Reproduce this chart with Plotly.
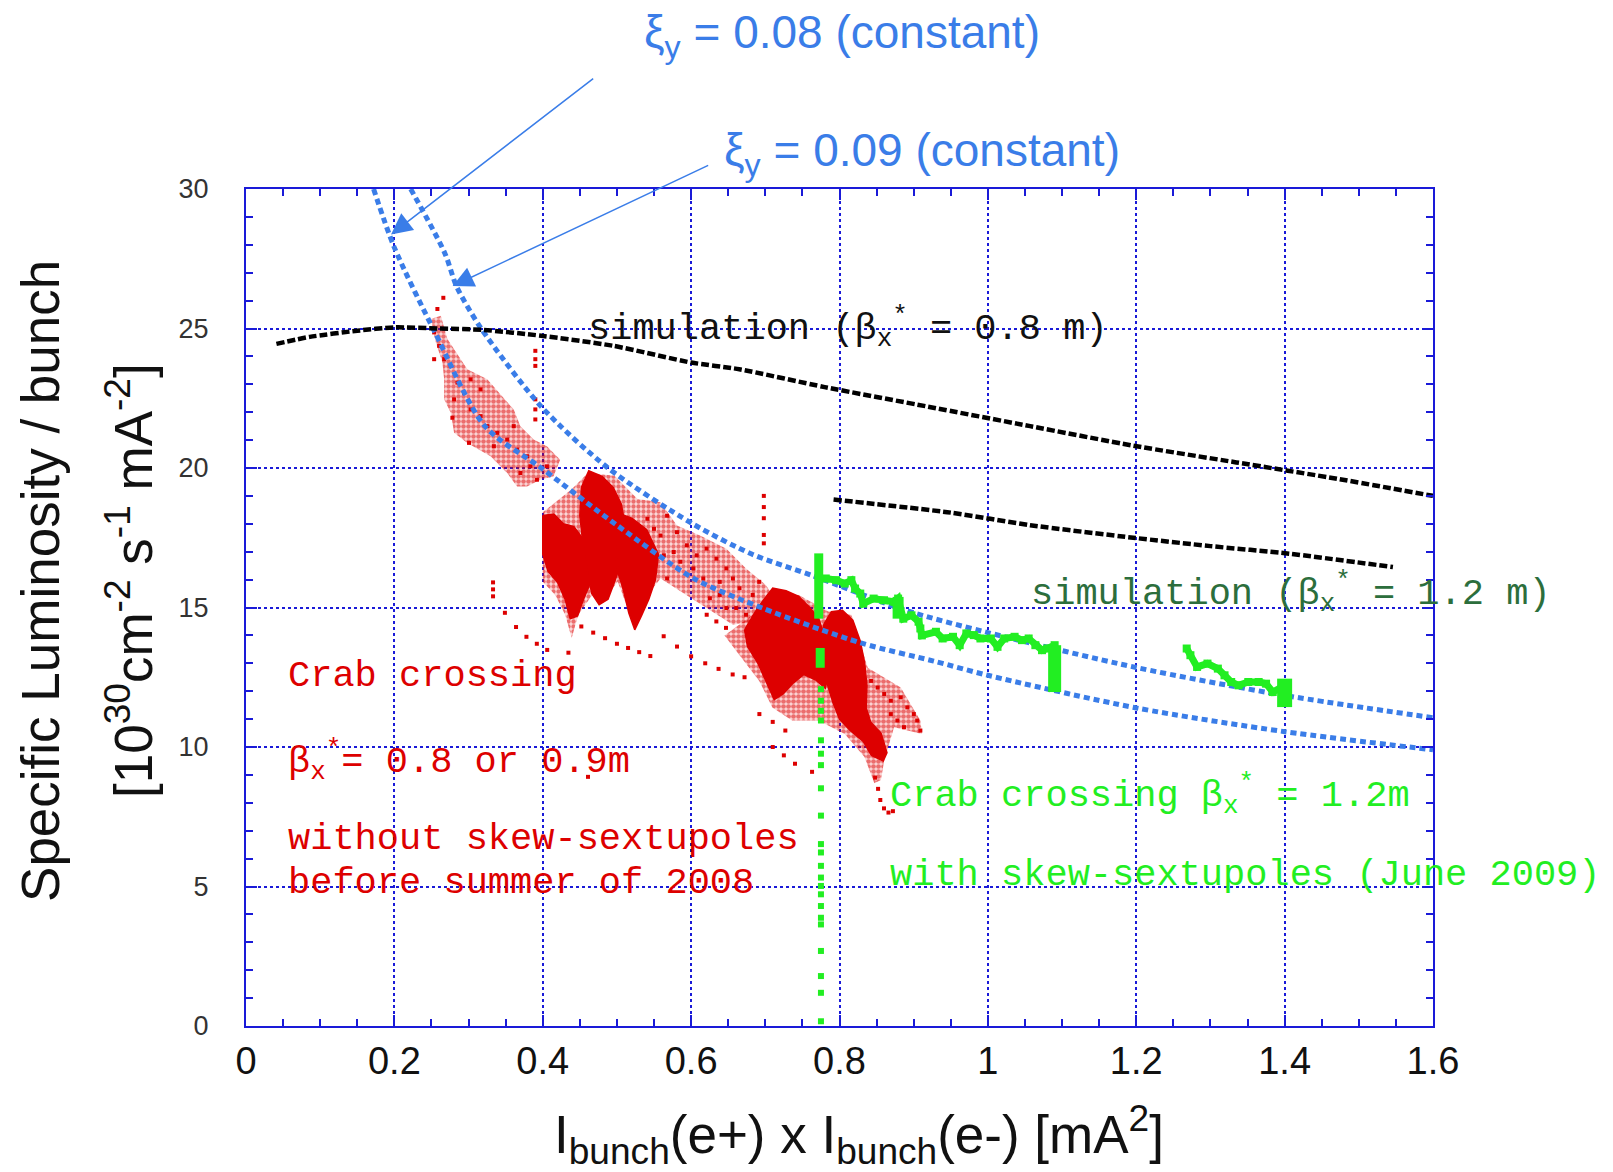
import plotly.graph_objects as go

# ---------------- data ----------------
# beam-beam limit curves, constant vertical tune shift
xi08_x = [0.172, 0.200, 0.254, 0.322, 0.398, 0.50, 0.603, 0.696, 0.83, 0.927, 1.0, 1.2, 1.4, 1.6]
xi08_y = [30.0, 27.9, 24.9, 21.5, 20.0, 17.95, 16.05, 14.98, 13.72, 13.08, 12.57, 11.4, 10.55, 9.9]
xi09_x = [0.222, 0.268, 0.284, 0.317, 0.398, 0.488, 0.602, 0.683, 0.763, 0.889, 1.0, 1.2, 1.4, 1.6]
xi09_y = [30.0, 27.7, 26.5, 25.0, 22.2, 20.0, 18.0, 16.9, 16.15, 14.9, 14.1, 12.85, 11.85, 11.05]

# beam-beam simulations
sim08_x = [0.041, 0.086, 0.15, 0.2, 0.26, 0.32, 0.398, 0.495, 0.6, 0.665, 0.78, 0.919, 1.057, 1.196, 1.335, 1.474, 1.6]
sim08_y = [24.45, 24.7, 24.92, 25.04, 25.0, 24.95, 24.74, 24.38, 23.78, 23.54, 22.9, 22.2, 21.5, 20.8, 20.2, 19.6, 19.0]
sim12_x = [0.792, 0.95, 1.057, 1.196, 1.30, 1.406, 1.546]
sim12_y = [18.87, 18.4, 17.95, 17.5, 17.2, 16.93, 16.45]

# crab crossing, beta_x* = 0.8 / 0.9 m : outlines of the sparse regions
red_streak_x = [0.2492, 0.2559, 0.2648, 0.2671, 0.2671, 0.276, 0.2805, 0.2983, 0.3296, 0.352, 0.3654, 0.3788,
                0.3967, 0.4146, 0.4235, 0.4056, 0.3878, 0.3699, 0.3609, 0.3252, 0.2983, 0.2715, 0.2626]
red_streak_y = [25.34, 24.5, 23.78, 23.18, 22.46, 21.98, 21.26, 20.9, 20.42, 19.82, 19.34, 19.34,
                19.58, 19.7, 20.3, 20.78, 21.02, 21.5, 22.1, 23.18, 23.54, 24.62, 25.46]
red_halo1_x = [0.400, 0.439, 0.4612, 0.4967, 0.5277, 0.5588, 0.5809, 0.612, 0.6475, 0.674, 0.7007, 0.7095, 0.683,
               0.6563, 0.6208, 0.5854, 0.5588, 0.541, 0.5277, 0.5144, 0.5011, 0.4834, 0.470, 0.4479, 0.439,
               0.4302, 0.4168, 0.400]
red_halo1_y = [18.41, 19.24, 19.83, 19.72, 18.89, 18.77, 17.94, 17.58, 17.11, 16.4, 15.81, 15.45, 14.5,
               14.38, 14.98, 15.57, 16.04, 15.45, 14.38, 14.98, 15.92, 15.33, 15.57, 14.74, 13.91,
               14.74, 15.45, 15.92]
red_halo2_x = [0.645, 0.683, 0.7095, 0.745, 0.7849, 0.816, 0.8381, 0.8825, 0.909, 0.9113, 0.8736, 0.8603,
               0.8559, 0.847, 0.8337, 0.8071, 0.7716, 0.7361, 0.7095, 0.6918, 0.665]
red_halo2_y = [14.0, 14.74, 15.57, 15.45, 14.86, 14.74, 12.84, 12.13, 10.95, 10.47, 10.71, 9.53,
               8.82, 8.7, 9.64, 10.47, 10.95, 10.95, 11.42, 12.37, 13.3]

# crab crossing, beta_x* = 0.8 / 0.9 m : outlines of the dense clusters
red_coreA_x = [0.400, 0.415, 0.428, 0.442, 0.456, 0.465, 0.463, 0.455, 0.447, 0.437, 0.430, 0.420, 0.407, 0.400]
red_coreA_y = [18.3, 18.35, 18.0, 17.9, 17.4, 16.5, 15.8, 15.3, 14.7, 14.6, 15.3, 15.9, 16.3, 16.9]
red_coreB_x = [0.452, 0.462, 0.480, 0.495, 0.506, 0.512, 0.508, 0.498, 0.488, 0.476, 0.466, 0.460, 0.454, 0.450]
red_coreB_y = [19.3, 19.9, 19.7, 19.3, 18.7, 17.8, 16.8, 16.0, 15.3, 15.1, 15.5, 16.3, 17.3, 18.3]
red_coreC_x = [0.500, 0.520, 0.540, 0.556, 0.552, 0.543, 0.533, 0.524, 0.516, 0.509, 0.502, 0.498]
red_coreC_y = [18.4, 18.2, 17.8, 16.9, 16.0, 15.3, 14.7, 14.2, 14.8, 15.6, 16.2, 17.0]
red_coreD_x = [0.672, 0.690, 0.710, 0.728, 0.745, 0.760, 0.772, 0.782, 0.787, 0.781, 0.768, 0.752, 0.738,
               0.724, 0.712, 0.702, 0.690, 0.676]
red_coreD_y = [14.2, 15.0, 15.7, 15.6, 15.4, 15.0, 14.6, 13.8, 12.9, 12.1, 12.4, 12.6, 12.3,
               11.9, 11.7, 12.3, 13.0, 13.6]
red_coreE_x = [0.779, 0.789, 0.804, 0.818, 0.828, 0.834, 0.837, 0.836, 0.842, 0.856, 0.864, 0.859, 0.843,
               0.832, 0.814, 0.800, 0.791, 0.783, 0.778, 0.776]
red_coreE_y = [14.4, 14.85, 14.9, 14.55, 13.8, 13.0, 12.2, 11.4, 10.9, 10.5, 9.8, 9.5, 9.7,
               10.2, 10.6, 11.0, 11.6, 12.3, 13.2, 13.9]

# crab crossing, beta_x* = 0.8 / 0.9 m : isolated points
red_pts_x = [0.2536, 0.2603, 0.2671, 0.276, 0.2849, 0.2939, 0.2805, 0.3028, 0.3162, 0.3252, 0.3386, 0.352,
             0.3654, 0.3788, 0.3609, 0.3028, 0.3162, 0.2782, 0.3006, 0.3699, 0.3922, 0.4056, 0.3833, 0.2536,
             0.3341, 0.266, 0.258,
             0.541, 0.5499, 0.5588, 0.5676, 0.5809, 0.5942, 0.6075, 0.6208, 0.6341, 0.6475, 0.6563, 0.6386,
             0.6652, 0.683, 0.6918, 0.6608, 0.6386, 0.6164, 0.6031, 0.5854, 0.5765, 0.5632, 0.5499, 0.5676,
             0.541, 0.6253, 0.6475, 0.674,
             0.8426, 0.8514, 0.8603, 0.8692, 0.8825, 0.8914, 0.9002, 0.9047, 0.909, 0.878, 0.8692, 0.8869,
             0.848, 0.852, 0.855, 0.86, 0.866, 0.872,
             0.333, 0.333, 0.333, 0.349, 0.364, 0.378, 0.392, 0.406,
             0.452, 0.468, 0.484, 0.500, 0.515, 0.530, 0.545,
             0.563, 0.581, 0.600, 0.619, 0.637, 0.656, 0.672,
             0.621, 0.634, 0.647,
             0.692, 0.71, 0.727, 0.71, 0.725, 0.74, 0.763,
             0.4346, 0.439, 0.461,
             0.39, 0.39, 0.39, 0.39, 0.39, 0.39,
             0.698, 0.698, 0.698, 0.698, 0.698]
red_pts_y = [24.86, 24.38, 23.9, 23.66, 23.06, 22.7, 22.46, 22.1, 21.86, 21.5, 21.26, 21.02,
             20.66, 20.42, 21.5, 23.18, 22.82, 21.8, 20.9, 19.82, 19.58, 20.06, 20.06, 23.9,
             20.78, 26.1, 25.7,
             18.18, 17.82, 17.58, 18.29, 17.7, 17.23, 16.87, 17.11, 16.75, 16.4, 16.04, 15.92,
             15.69, 15.45, 15.92, 14.98, 15.45, 16.04, 16.4, 16.64, 16.99, 16.87, 16.4, 16.04,
             17.23, 15.33, 14.98, 14.74,
             12.37, 12.13, 11.9, 11.66, 11.78, 11.42, 11.18, 10.95, 10.59, 10.95, 11.18, 10.71,
             8.9, 8.5, 8.1, 7.8, 7.65, 7.7,
             15.9, 15.65, 15.4, 14.81, 14.3, 13.95, 13.7, 13.48,
             14.32, 14.1, 13.9, 13.7, 13.55, 13.4, 13.26,
             13.97, 13.6, 13.25, 13.0, 12.8, 12.6, 12.5,
             14.74, 14.5, 14.27,
             11.18, 10.9, 10.59, 10.0, 9.7, 9.4, 9.11,
             13.38, 12.84, 8.93,
             24.2, 23.9, 23.66, 22.46, 22.1, 21.74,
             19.0, 18.6, 18.2, 17.6, 17.3]

# crab crossing, beta_x* = 1.2 m with skew-sextupoles
grn_path1_x = [0.7815, 0.7954, 0.807, 0.816, 0.821, 0.828, 0.832, 0.846, 0.860, 0.874, 0.879, 0.886, 0.897,
               0.9066, 0.909, 0.911, 0.930, 0.939, 0.953, 0.962, 0.971, 0.981, 0.990, 1.004, 1.013, 1.022,
               1.036, 1.046, 1.055, 1.064, 1.073, 1.080, 1.090]
grn_path1_y = [16.04, 15.98, 15.86, 15.98, 15.68, 15.5, 15.14, 15.32, 15.26, 15.2, 15.32, 14.6, 14.72,
               14.49, 14.25, 14.0, 14.13, 13.89, 13.95, 13.65, 14.07, 14.01, 13.89, 13.89, 13.59, 13.89,
               13.95, 13.83, 13.89, 13.65, 13.47, 13.53, 13.65]
grn_path2_x = [1.268, 1.273, 1.282, 1.296, 1.310, 1.319, 1.328, 1.338, 1.351, 1.365, 1.375, 1.384, 1.400]
grn_path2_y = [13.53, 13.29, 12.87, 12.99, 12.81, 12.57, 12.33, 12.21, 12.33, 12.33, 12.27, 11.97, 12.2]
# vertical scans at fixed current product
grn_bar_x = [0.772, 0.879, 1.090, 1.400, 0.774]
grn_bar_lo = [14.6, 14.6, 11.97, 11.43, 12.84]
grn_bar_hi = [16.94, 15.38, 13.65, 12.45, 13.55]
grn_drop_x = [0.775] * 22
grn_drop_y = [12.07, 11.66, 11.3, 10.95, 10.24, 9.76, 9.35, 8.52, 7.54, 6.52, 6.22, 5.74, 5.32, 5.02,
              4.72, 4.30, 3.88, 3.64, 2.69, 1.79, 1.19, 0.17]

x_ticks = [0, 0.2, 0.4, 0.6, 0.8, 1.0, 1.2, 1.4, 1.6]
y_ticks = [0, 5, 10, 15, 20, 25, 30]

# ---------------- styles ----------------
RED = "#dd0000"
GREEN = "#22ee22"
DKGREEN = "#2c6e3c"
CURVE_BLUE = "#3a7de8"
FRAME_BLUE = "#1a1ad8"
MONO = "Liberation Mono, DejaVu Sans Mono, monospace"
SANS = "Liberation Sans, Arial, Helvetica, sans-serif"
NARROW = "Liberation Sans Narrow, Arial Narrow, Liberation Sans, sans-serif"

fig = go.Figure()


def region(xs, ys, solidity, size=5, base="rgba(221,0,0,0.14)"):
    """Speckled red region for a cloud of measured points."""
    fig.add_trace(go.Scatter(x=xs + xs[:1], y=ys + ys[:1], mode="lines", fill="toself",
                             fillcolor=base, line=dict(width=0, color=RED), hoverinfo="skip",
                             fillpattern=dict(shape=".", fgcolor=RED, bgcolor=base,
                                              size=size, solidity=solidity)))


def core(xs, ys):
    fig.add_trace(go.Scatter(x=xs + xs[:1], y=ys + ys[:1], mode="lines", fill="toself",
                             fillcolor=RED, line=dict(width=1.5, color=RED), hoverinfo="skip"))


region(red_streak_x, red_streak_y, 0.65)
region(red_halo1_x, red_halo1_y, 0.6)
region(red_halo2_x, red_halo2_y, 0.7)
for cx, cy in [(red_coreA_x, red_coreA_y), (red_coreB_x, red_coreB_y), (red_coreC_x, red_coreC_y),
               (red_coreD_x, red_coreD_y), (red_coreE_x, red_coreE_y)]:
    core(cx, cy)

fig.add_trace(go.Scatter(x=red_pts_x, y=red_pts_y, mode="markers",
                         marker=dict(symbol="square", size=4, color=RED, line=dict(width=0))))

# tune-shift limit curves
for xs, ys in [(xi08_x, xi08_y), (xi09_x, xi09_y)]:
    fig.add_trace(go.Scatter(x=xs, y=ys, mode="lines",
                             line=dict(color=CURVE_BLUE, width=5, dash="6px,4px", shape="spline", smoothing=0.8)))

# measured data with skew-sextupoles
for xs, ys in [(grn_path1_x, grn_path1_y), (grn_path2_x, grn_path2_y)]:
    fig.add_trace(go.Scatter(x=xs, y=ys, mode="lines+markers",
                             line=dict(color=GREEN, width=7),
                             marker=dict(symbol="square", size=8, color=GREEN)))
for bx, lo, hi, w in zip(grn_bar_x, grn_bar_lo, grn_bar_hi, [9, 11, 13, 15, 9]):
    fig.add_trace(go.Scatter(x=[bx, bx], y=[lo, hi], mode="lines", line=dict(color=GREEN, width=w)))
fig.add_trace(go.Scatter(x=grn_drop_x, y=grn_drop_y, mode="markers",
                         marker=dict(symbol="square", size=6, color=GREEN)))

# simulations
for xs, ys in [(sim08_x, sim08_y), (sim12_x, sim12_y)]:
    fig.add_trace(go.Scatter(x=xs, y=ys, mode="lines",
                             line=dict(color="black", width=4.5, dash="8px,3px", shape="spline", smoothing=0.6)))

annotations = []


def label(text, x, y, color, size, family=MONO, ref="x"):
    annotations.append(dict(text=text, x=x, y=y, xref="x" if ref == "x" else "paper",
                            yref="y" if ref == "x" else "paper", xanchor="left", yanchor="middle",
                            showarrow=False, font=dict(family=family, size=size, color=color)))


label("ξ<sub>y</sub> = 0.08 (constant)", 0.3335, 1.183, CURVE_BLUE, 46, SANS, ref="paper")
label("ξ<sub>y</sub> = 0.09 (constant)", 0.4009, 1.042, CURVE_BLUE, 46, SANS, ref="paper")
for hx, hy, tx, ty in [(0.1955, 28.37, 0.47, 34.0), (0.2785, 26.52, 0.625, 30.87)]:
    annotations.append(dict(text="", x=hx, y=hy, ax=tx, ay=ty, xref="x", yref="y", axref="x", ayref="y",
                            showarrow=True, arrowhead=2, arrowsize=2.8, arrowwidth=1.5,
                            arrowcolor=CURVE_BLUE))

label("simulation (β<sub>x</sub><sup>*</sup> = 0.8 m)", 0.4588, 25.05, "#111111", 37)
label("simulation (β<sub>x</sub><sup>*</sup> = 1.2 m)", 1.055, 15.52, DKGREEN, 37)

label("Crab crossing", 0.054, 12.54, RED, 37)
label("β<sub>x</sub><sup>*</sup>= 0.8 or 0.9m", 0.054, 9.53, RED, 37)
label("without skew-sextupoles", 0.054, 6.72, RED, 37)
label("before summer of 2008", 0.054, 5.14, RED, 37)

label("Crab crossing β<sub>x</sub><sup>*</sup> = 1.2m", 0.866, 8.28, GREEN, 37)
label("with skew-sextupoles (June 2009)", 0.866, 5.43, GREEN, 37)

# axis titles
annotations.append(dict(text="I<sub>bunch</sub>(e+) x I<sub>bunch</sub>(e-) [mA<sup>2</sup>]",
                        x=0.5164, y=-0.130, xref="paper", yref="paper", xanchor="center", yanchor="middle",
                        showarrow=False, font=dict(family=SANS, size=53, color="#111111")))
annotations.append(dict(text="Specific Luminosity / bunch", textangle=-90,
                        x=-0.1727, y=0.5317, xref="paper", yref="paper", xanchor="center", yanchor="middle",
                        showarrow=False, font=dict(family=SANS, size=53, color="#111111")))
annotations.append(dict(text="[10<sup>30</sup>cm<sup>-2</sup> s<sup>-1</sup> mA<sup>-2</sup>]", textangle=-90,
                        x=-0.0977, y=0.5317, xref="paper", yref="paper", xanchor="center", yanchor="middle",
                        showarrow=False, font=dict(family=SANS, size=53, color="#111111")))

axis_common = dict(showline=True, linecolor=FRAME_BLUE, linewidth=2, mirror="ticks",
                   ticks="inside", ticklen=11, tickwidth=2, tickcolor=FRAME_BLUE,
                   showgrid=True, gridcolor=FRAME_BLUE, gridwidth=1.5, griddash="dot", zeroline=False)

fig.update_xaxes(range=[0, 1.6], tickvals=x_ticks,
                 minor=dict(dtick=0.05, ticks="inside", ticklen=7, tickwidth=1.5, tickcolor=FRAME_BLUE,
                            showgrid=False),
                 tickfont=dict(family=NARROW, size=38, color="#111111"), ticklabelstandoff=0,
                 **axis_common)
fig.update_yaxes(range=[0, 30], tickvals=y_ticks,
                 minor=dict(dtick=1, ticks="inside", ticklen=7, tickwidth=1.5, tickcolor=FRAME_BLUE,
                            showgrid=False),
                 tickfont=dict(family=SANS, size=27, color="#333333"), ticklabelstandoff=30,
                 **axis_common)

fig.update_layout(width=1613, height=1172, showlegend=False,
                  plot_bgcolor="white", paper_bgcolor="white",
                  margin=dict(l=246, r=180, t=189, b=146),
                  annotations=annotations)

fig.write_html("out.html")
